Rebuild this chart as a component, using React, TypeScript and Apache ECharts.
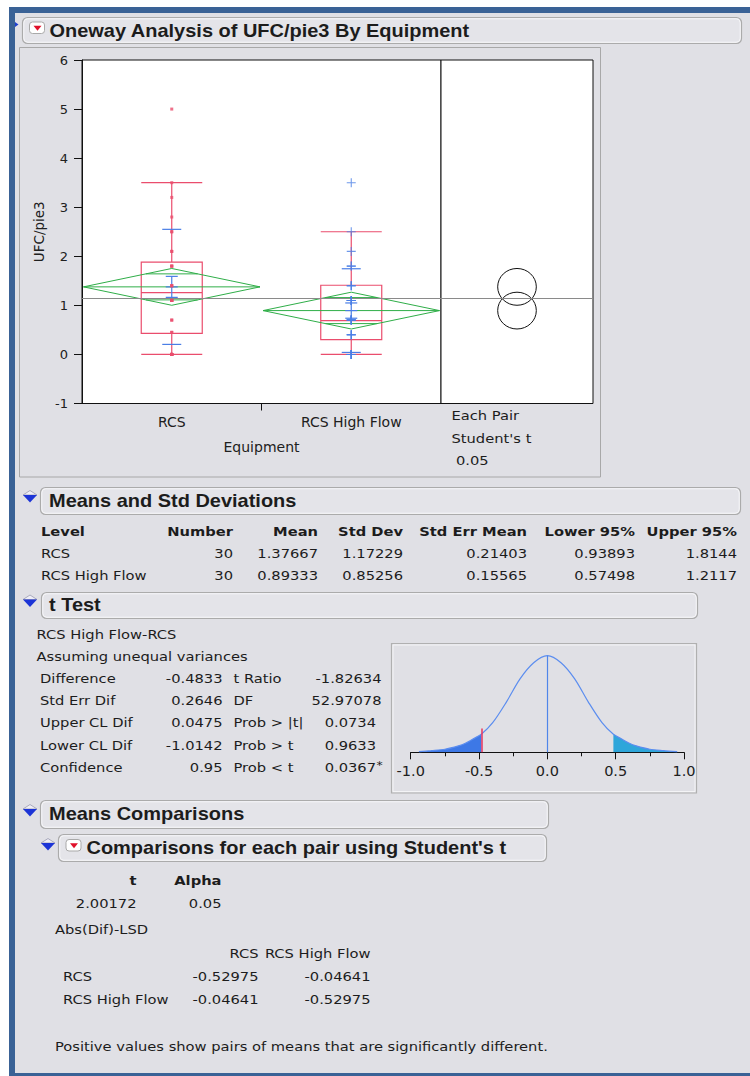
import React, { useEffect, useRef } from 'react';
import * as echarts from 'echarts';

// ---------- data ----------
const categories = ['RCS', 'RCS High Flow'];
const rcsValues = [0, 0, 0, 0, 0, 0, 0, 0.45, 0.45, 0.7, 0.7, 1.1, 1.1, 1.1, 1.1, 1.1, 1.4, 1.4, 1.4, 1.8, 1.8, 1.8, 2.1, 2.1, 2.5, 2.5, 2.8, 3.2, 3.5, 5.0];
const highFlowValues = [0, 0, 0, 0, 0, 0, 0, 0.4, 0.4, 0.4, 0.4, 0.7, 0.7, 0.7, 0.7, 0.7, 0.7, 1.1, 1.1, 1.1, 1.1, 1.1, 1.4, 1.4, 1.4, 1.8, 1.8, 2.1, 2.5, 3.5];
const boxStats = [
  [0, 0.43, 1.26, 1.88, 3.5],
  [0, 0.3, 0.69, 1.41, 2.5],
];
const means = [1.37667, 0.89333];
const stdDevs = [1.17229, 0.85256];
const stdErrs = [0.21403, 0.15565];
const diamondHalf = [0.375, 0.375];
const grandMean = 1.135;
const pairLabels = ['Each Pair', "Student's t", '0.05'];

const tableHeader = ['Level', 'Number', 'Mean', 'Std Dev', 'Std Err Mean', 'Lower 95%', 'Upper 95%'];
const tableRows = [
  ['RCS', '30', '1.37667', '1.17229', '0.21403', '0.93893', '1.8144'],
  ['RCS High Flow', '30', '0.89333', '0.85256', '0.15565', '0.57498', '1.2117'],
];
const tTestIntro = ['RCS High Flow-RCS', 'Assuming unequal variances'];
const tStatLabels = ['Difference', 'Std Err Dif', 'Upper CL Dif', 'Lower CL Dif', 'Confidence'];
const tStatValues = ['-0.4833', '0.2646', '0.0475', '-1.0142', '0.95'];
const tTestLabels = ['t Ratio', 'DF', 'Prob > |t|', 'Prob > t', 'Prob < t'];
const tTestValues = ['-1.82634', '52.97078', '0.0734', '0.9633', '0.0367*'];
const difference = -0.4833;
const diffLineTop = 0.37;
const curveX = [-0.94, -0.85, -0.75, -0.65, -0.6, -0.55, -0.4833, -0.4, -0.3, -0.2, -0.1, 0, 0.1, 0.2, 0.3, 0.4, 0.4833, 0.55, 0.6, 0.65, 0.75, 0.85, 0.95];
const curveY = [0.01, 0.026, 0.047, 0.1, 0.14, 0.2, 0.28, 0.46, 0.78, 1.14, 1.39, 1.5, 1.39, 1.14, 0.78, 0.46, 0.28, 0.2, 0.14, 0.1, 0.047, 0.026, 0.01];
const lsdHead = ['t', 'Alpha'];
const lsdVals = ['2.00172', '0.05'];
const lsdTitle = 'Abs(Dif)-LSD';
const lsdCols = ['RCS', 'RCS High Flow'];
const lsdRows = [
  ['RCS', '-0.52975', '-0.04641'],
  ['RCS High Flow', '-0.04641', '-0.52975'],
];
const footnote = 'Positive values show pairs of means that are significantly different.';
const headerTitles = ['Oneway Analysis of UFC/pie3 By Equipment', 'Means and Std Deviations', 't Test', 'Means Comparisons', "Comparisons for each pair using Student's t"];

// ---------- styles ----------
const BG = '#e0e0e5';
const BLUE_FRAME = '#3a6296';
const RED = '#ea4d6d';
const BLUEM = '#4a7ee6';
const GREEN = '#2fae48';
const INK = '#1c1c1c';
const SX = 1.13;

function txt(x: number, y: number, text: string, o: any = {}) {
  return {
    type: 'text', x, y, z: 20, scaleX: o.sx ?? SX, silent: true,
    style: {
      text, x: 0, y: 0, fill: o.color || INK,
      fontSize: o.size || 13, fontFamily: o.family || 'DejaVu Sans',
      fontWeight: o.bold ? 'bold' : 'normal',
      align: o.align || 'left', verticalAlign: 'middle',
    },
  };
}
function headerBox(x1: number, y1: number, x2: number, y2: number) {
  return [
    { type: 'rect', z: 1, silent: true, shape: { x: x1 + 0.5, y: y1 + 0.5, width: x2 - x1, height: y2 - y1, r: 5 }, style: { fill: '#e4e4e9', stroke: '#ababab', lineWidth: 1.2 } },
    { type: 'rect', z: 1, silent: true, shape: { x: x1 + 1.8, y: y1 + 1.8, width: x2 - x1 - 2.6, height: y2 - y1 - 2.6, r: 4 }, style: { fill: 'none', stroke: '#f6f6f8', lineWidth: 1 } },
  ];
}
function blueIcon(cx: number, my: number) {
  return [
    { type: 'polygon', z: 5, silent: true, shape: { points: [[cx - 7, my], [cx, my - 4.5], [cx + 7, my]] }, style: { fill: '#eeeef6', stroke: '#9a9ab0', lineWidth: 0.8 } },
    { type: 'polygon', z: 5, silent: true, shape: { points: [[cx - 7, my], [cx + 7, my], [cx, my + 7.5]] }, style: { fill: '#1c34d6' } },
  ];
}
function redIcon(x: number, y: number) {
  return [
    { type: 'rect', z: 5, silent: true, shape: { x, y, width: 15, height: 11.5, r: 3 }, style: { fill: '#ffffff', stroke: '#a9a9a9', lineWidth: 1 } },
    { type: 'polygon', z: 6, silent: true, shape: { points: [[x + 4, y + 3.8], [x + 12, y + 3.8], [x + 8, y + 8.8]] }, style: { fill: '#e0102a' } },
  ];
}

function buildGraphics() {
  const G: any[] = [];
  G.push({ type: 'rect', z: -10, silent: true, shape: { x: 9, y: 7, width: 745, height: 1069 }, style: { fill: BLUE_FRAME } });
  G.push({ type: 'rect', z: -9, silent: true, shape: { x: 15, y: 13, width: 740, height: 1060 }, style: { fill: BG } });
  G.push({ type: 'polygon', z: 5, silent: true, shape: { points: [[15, 22], [18.5, 24.5], [15, 27]] }, style: { fill: '#2040d0' } });
  // plot panel
  G.push({ type: 'rect', z: -8, silent: true, shape: { x: 19.5, y: 47.5, width: 581, height: 429.5 }, style: { fill: BG, stroke: '#a8a8a8', lineWidth: 1 } });
  // t-dist panel
  G.push({ type: 'rect', z: -8, silent: true, shape: { x: 391.5, y: 643.5, width: 305, height: 149.5 }, style: { fill: BG, stroke: '#b0b0b0', lineWidth: 1.2 } });
  G.push({ type: 'rect', z: -8, silent: true, shape: { x: 393, y: 645, width: 302, height: 146.5 }, style: { fill: 'none', stroke: '#f4f4f6', lineWidth: 1 } });

  // headers
  G.push(...headerBox(22, 17, 741, 43), ...redIcon(29.5, 22));
  G.push(txt(49.5, 30.5, headerTitles[0], { bold: true, size: 18, family: 'Liberation Sans', sx: 1.11 }));
  G.push(...headerBox(40, 487, 740, 514), ...blueIcon(30, 495));
  G.push(txt(49, 500.5, headerTitles[1], { bold: true, size: 18, family: 'Liberation Sans', sx: 1.11 }));
  G.push(...headerBox(41, 592, 697, 618), ...blueIcon(30, 599.5));
  G.push(txt(49, 605, headerTitles[2], { bold: true, size: 18, family: 'Liberation Sans', sx: 1.11 }));
  G.push(...headerBox(40, 800, 548, 828), ...blueIcon(30, 809));
  G.push(txt(49, 814, headerTitles[3], { bold: true, size: 18, family: 'Liberation Sans', sx: 1.11 }));
  G.push(...headerBox(58, 834, 546, 861), ...blueIcon(48, 843), ...redIcon(66, 839.5));
  G.push(txt(86.5, 847.5, headerTitles[4], { bold: true, size: 18, family: 'Liberation Sans', sx: 1.11 }));

  // pair labels in plot panel
  G.push(txt(451.5, 415, pairLabels[0]));
  G.push(txt(451.5, 438, pairLabels[1]));
  G.push(txt(456, 460, pairLabels[2]));

  // means table
  const colX = [41, 233, 318, 403, 527, 635, 737];
  const rowsY = [531, 553, 575];
  tableHeader.forEach((h, i) => G.push(txt(colX[i], rowsY[0], h, { bold: true, align: i === 0 ? 'left' : 'right' })));
  tableRows.forEach((r, ri) => r.forEach((v, i) => G.push(txt(colX[i], rowsY[ri + 1], v, { align: i === 0 ? 'left' : 'right' }))));

  // t test
  G.push(txt(36.5, 634, tTestIntro[0]));
  G.push(txt(36.5, 656, tTestIntro[1]));
  const tRowsY = [678, 700, 722.5, 745, 767];
  const tVal2Right = [381.5, 381.5, 376, 376, 376];
  tStatLabels.forEach((l, i) => {
    G.push(txt(40, tRowsY[i], l));
    G.push(txt(222.5, tRowsY[i], tStatValues[i], { align: 'right' }));
    G.push(txt(233.5, tRowsY[i], tTestLabels[i]));
    const v = tTestValues[i];
    if (v.endsWith('*')) {
      G.push(txt(tVal2Right[i], tRowsY[i], v.slice(0, -1), { align: 'right' }));
      G.push(txt(tVal2Right[i] + 0.5, tRowsY[i] - 2, '*', { size: 11 }));
    } else {
      G.push(txt(tVal2Right[i], tRowsY[i], v, { align: 'right' }));
    }
  });

  // comparisons
  G.push(txt(136.5, 880, lsdHead[0], { bold: true, align: 'right' }));
  G.push(txt(221.5, 880, lsdHead[1], { bold: true, align: 'right' }));
  G.push(txt(136.5, 903, lsdVals[0], { align: 'right' }));
  G.push(txt(221.5, 903, lsdVals[1], { align: 'right' }));
  G.push(txt(55, 929.5, lsdTitle));
  G.push(txt(258.5, 953, lsdCols[0], { align: 'right' }));
  G.push(txt(370.5, 953, lsdCols[1], { align: 'right' }));
  const lsdY = [976, 999];
  lsdRows.forEach((r, ri) => {
    G.push(txt(63, lsdY[ri], r[0]));
    G.push(txt(258.5, lsdY[ri], r[1], { align: 'right' }));
    G.push(txt(370.5, lsdY[ri], r[2], { align: 'right' }));
  });
  G.push(txt(55, 1046.5, footnote));
  return G;
}

export default function App() {
  const ref = useRef<HTMLDivElement>(null);
  useEffect(() => {
    if (!ref.current) return;
    const chart = echarts.init(ref.current, null, { renderer: 'svg' });

    const curve = curveX.map((x, i) => [x, curveY[i]]);
    const leftTail = curve.filter((p) => p[0] <= difference + 1e-9);
    const rightTail = curve.filter((p) => p[0] >= -difference - 1e-9);
    const peak = Math.max(...curveY);

    const axisFont = { fontFamily: 'DejaVu Sans', color: '#202020' };

    const option: any = {
      animation: false,
      backgroundColor: '#ffffff',
      grid: [
        { left: 82, top: 60, width: 359, height: 343.5, show: true, backgroundColor: '#ffffff', borderColor: '#111', borderWidth: 1, z: 0, outerBoundsMode: 'none' },
        { left: 441, top: 60, width: 152, height: 343.5, show: true, backgroundColor: '#ffffff', borderColor: '#111', borderWidth: 1, z: 0, outerBoundsMode: 'none' },
        { left: 410.7, top: 655.7, width: 273.3, height: 96.6, show: false, outerBoundsMode: 'none' },
      ],
      xAxis: [
        {
          type: 'category', gridIndex: 0, data: categories, boundaryGap: true,
          axisLine: { onZero: false, lineStyle: { color: '#111', width: 1 } },
          axisTick: { show: false },
          axisLabel: { ...axisFont, fontSize: 14, margin: 11 },
          splitLine: { show: false },
          name: 'Equipment', nameLocation: 'middle', nameGap: 36,
          nameTextStyle: { ...axisFont, fontSize: 14 },
        },
        { type: 'value', gridIndex: 1, min: 0, max: 1, show: false },
        {
          type: 'value', gridIndex: 2, min: -1, max: 1, interval: 0.5,
          axisLine: { onZero: false, lineStyle: { color: '#111', width: 1 } },
          axisTick: { length: 7, lineStyle: { color: '#111' } },
          minorTick: { show: true, splitNumber: 2, length: 4, lineStyle: { color: '#111' } },
          axisLabel: { ...axisFont, fontSize: 14.5, margin: 11, formatter: (v: number) => v.toFixed(1) },
          splitLine: { show: false }, minorSplitLine: { show: false },
        },
      ],
      yAxis: [
        {
          type: 'value', gridIndex: 0, min: -1, max: 6, interval: 1,
          axisLine: { show: true, onZero: false, lineStyle: { color: '#111', width: 1 } },
          axisTick: { show: true, length: 8, lineStyle: { color: '#111' } },
          axisLabel: { ...axisFont, fontSize: 13, margin: 14 },
          splitLine: { show: false },
          name: 'UFC/pie3', nameLocation: 'middle', nameGap: 36,
          nameTextStyle: { ...axisFont, fontSize: 13.5 },
        },
        { type: 'value', gridIndex: 1, min: -1, max: 6, show: false },
        { type: 'value', gridIndex: 2, min: 0, max: 1.5, show: false },
      ],
      graphic: buildGraphics(),
      series: [
        {
          type: 'boxplot', xAxisIndex: 0, yAxisIndex: 0, data: boxStats,
          boxWidth: [61, 61], silent: true,
          itemStyle: { color: 'rgba(0,0,0,0)', borderColor: RED, borderWidth: 1.2 },
          markLine: {
            silent: true, symbol: 'none', label: { show: false },
            lineStyle: { color: '#8a8a8a', width: 1, type: 'solid' },
            data: [{ yAxis: grandMean }],
          },
          z: 2,
        },
        {
          // category boundary tick below the x axis
          type: 'custom', xAxisIndex: 0, yAxisIndex: 0, silent: true, z: 2, clip: false,
          data: [[0, -1]],
          renderItem: (params: any, api: any) => {
            const p = api.coord([api.value(0), api.value(1)]);
            const bx = p[0] + api.size([1, 0])[0] / 2;
            return { type: 'line', shape: { x1: bx, y1: p[1], x2: bx, y2: p[1] + 7 }, style: { stroke: '#111', lineWidth: 1 } };
          },
        },
        {
          type: 'custom', xAxisIndex: 0, yAxisIndex: 0, silent: true, z: 3,
          data: means.map((m, i) => [i, m, diamondHalf[i]]),
          renderItem: (params: any, api: any) => {
            const i = api.value(0), m = api.value(1), h = api.value(2);
            const c = api.coord([i, m]);
            const top = api.coord([i, m + h])[1];
            const bot = api.coord([i, m - h])[1];
            const half = api.size([1, 0])[0] / 2 - 1.5;
            const oy = (c[1] - top) / Math.SQRT2;
            const ow = half * (1 - 1 / Math.SQRT2);
            const st = { stroke: GREEN, lineWidth: 1, fill: 'none' };
            return {
              type: 'group', children: [
                { type: 'polygon', shape: { points: [[c[0] - half, c[1]], [c[0], top], [c[0] + half, c[1]], [c[0], bot]] }, style: st },
                { type: 'line', shape: { x1: c[0] - half, y1: c[1], x2: c[0] + half, y2: c[1] }, style: st },
                { type: 'line', shape: { x1: c[0] - ow, y1: c[1] - oy, x2: c[0] + ow, y2: c[1] - oy }, style: st },
                { type: 'line', shape: { x1: c[0] - ow, y1: c[1] + oy, x2: c[0] + ow, y2: c[1] + oy }, style: st },
              ],
            };
          },
        },
        {
          type: 'custom', xAxisIndex: 0, yAxisIndex: 0, silent: true, z: 4,
          data: means.map((m, i) => [i, m, stdDevs[i], stdErrs[i]]),
          renderItem: (params: any, api: any) => {
            const i = api.value(0), m = api.value(1), sd = api.value(2), se = api.value(3);
            const c = api.coord([i, m]);
            const y = (v: number) => api.coord([i, v])[1];
            const st = { stroke: BLUEM, lineWidth: 1.2 };
            const hl = (yy: number, w: number) => ({ type: 'line', shape: { x1: c[0] - w, y1: yy, x2: c[0] + w, y2: yy }, style: st });
            return {
              type: 'group', children: [
                hl(y(m + sd), 9.5), hl(y(m - sd), 9.5),
                { type: 'line', shape: { x1: c[0], y1: y(m + se), x2: c[0], y2: y(m - se) }, style: st },
                hl(y(m + se), 6), hl(y(m - se), 6), hl(c[1], 6),
              ],
            };
          },
        },
        {
          type: 'scatter', xAxisIndex: 0, yAxisIndex: 0, silent: true, z: 5,
          data: rcsValues.map((v) => [0, v]),
          symbol: 'rect', symbolSize: 3, itemStyle: { color: RED },
        },
        {
          type: 'scatter', xAxisIndex: 0, yAxisIndex: 0, silent: true, z: 5,
          data: highFlowValues.map((v) => [1, v]),
          symbol: 'path://M0,4.4H10V5.6H0Z M4.4,0H5.6V10H4.4Z', symbolSize: 9, itemStyle: { color: BLUEM },
        },
        {
          type: 'custom', xAxisIndex: 1, yAxisIndex: 1, silent: true, z: 3,
          data: means.map((m, i) => [0.5, m, diamondHalf[i]]),
          renderItem: (params: any, api: any) => {
            const c = api.coord([api.value(0), api.value(1)]);
            const r = api.size([0, api.value(2)])[1];
            return { type: 'ellipse', shape: { cx: c[0], cy: c[1], rx: r * 1.05, ry: r }, style: { fill: 'none', stroke: '#111', lineWidth: 1 } };
          },
          markLine: {
            silent: true, symbol: 'none', label: { show: false },
            lineStyle: { color: '#8a8a8a', width: 1, type: 'solid' },
            data: [{ yAxis: grandMean }],
          },
        },
        {
          type: 'line', xAxisIndex: 2, yAxisIndex: 2, data: leftTail, smooth: 0.3, symbol: 'none', silent: true,
          lineStyle: { width: 0 }, areaStyle: { color: '#3d78e6', opacity: 1 }, z: 2,
        },
        {
          type: 'line', xAxisIndex: 2, yAxisIndex: 2, data: rightTail, smooth: 0.3, symbol: 'none', silent: true,
          lineStyle: { width: 0 }, areaStyle: { color: '#2ea6da', opacity: 1 }, z: 2,
        },
        {
          type: 'line', xAxisIndex: 2, yAxisIndex: 2, data: curve, smooth: 0.3, symbol: 'none', silent: true,
          lineStyle: { color: '#5b8def', width: 1.2 }, z: 3,
          markLine: {
            silent: true, symbol: 'none', label: { show: false },
            data: [
              [{ coord: [difference, 0], lineStyle: { color: '#e8365e', width: 1.5, type: 'solid' } }, { coord: [difference, diffLineTop] }],
              [{ coord: [0, 0], lineStyle: { color: '#4f86ea', width: 1.2, type: 'solid' } }, { coord: [0, peak] }],
            ],
          },
        },
      ],
    };
    chart.setOption(option);
    return () => chart.dispose();
  }, []);
  return <div ref={ref} style={{ position: 'absolute', left: 0, top: 0, width: 750, height: 1076 }} />;
}
